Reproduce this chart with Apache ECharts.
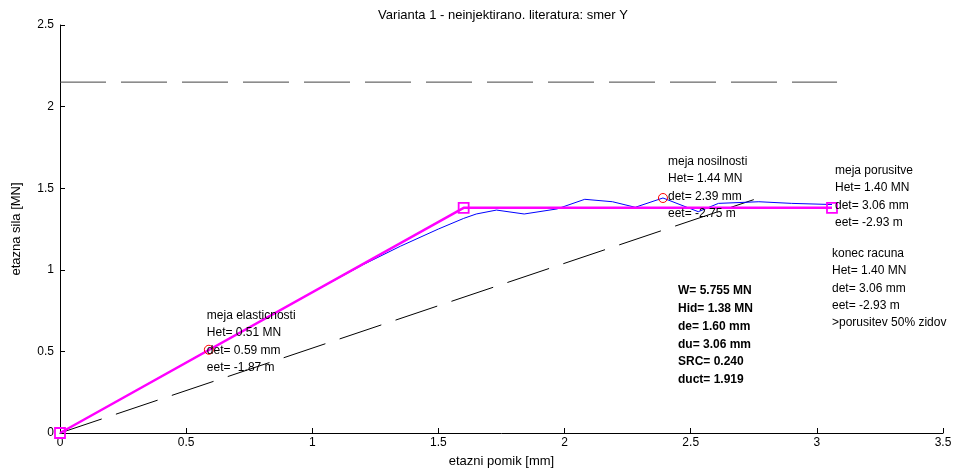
<!DOCTYPE html>
<html>
<head>
<meta charset="utf-8">
<script src="https://cdn.jsdelivr.net/npm/echarts@6/dist/echarts.min.js"></script>
<style>
  html, body { margin: 0; padding: 0; background: #fff; }
  #chart { width: 968px; height: 470px; }
</style>
</head>
<body>
<div id="chart"></div>
<script>
// Pushover curve (storey shear vs. storey drift)
const xTicks = [0, 0.5, 1, 1.5, 2, 2.5, 3, 3.5];
const yTicks = [0, 0.5, 1, 1.5, 2, 2.5];

// computed response [drift mm, force MN]
const curveDrift = [0, 0.2, 0.4, 0.59, 0.8, 1.0, 1.2, 1.35, 1.5, 1.6, 1.65, 1.73, 1.84, 1.97, 2.08, 2.19, 2.28, 2.39, 2.53, 2.61, 2.77, 2.9, 3.06];
const curveForce = [0, 0.172, 0.345, 0.51, 0.69, 0.862, 1.03, 1.145, 1.25, 1.315, 1.342, 1.366, 1.342, 1.373, 1.432, 1.417, 1.383, 1.44, 1.356, 1.407, 1.417, 1.407, 1.40];

// bilinear idealisation
const idealDrift = [0, 1.60, 3.06];
const idealForce = [0, 1.38, 1.38];

// secant line and reference level
const secantDrift = [0, 2.75];
const secantForce = [0, 1.43];
const levelDrift = [0, 3.08];
const levelForce = [2.15, 2.15];

// characteristic points
const elasticPt = [0.59, 0.51];
const capacityPt = [2.39, 1.44];
const failurePt = [3.06, 1.38];

const elasticText = ['meja elasticnosti', 'Het= 0.51 MN', 'det= 0.59 mm', 'eet= -1.87 m'];
const capacityText = ['meja nosilnosti', 'Het= 1.44 MN', 'det= 2.39 mm', 'eet= -2.75 m'];
const failureText = ['meja porusitve', 'Het= 1.40 MN', 'det= 3.06 mm', 'eet= -2.93 m'];
const endText = ['konec racuna', 'Het= 1.40 MN', 'det= 3.06 mm', 'eet= -2.93 m', '>porusitev 50% zidov'];
const summaryText = ['W= 5.755 MN', 'Hid= 1.38 MN', 'de= 1.60 mm', 'du= 3.06 mm', 'SRC= 0.240', 'duct= 1.919'];

const zip = (a, b) => a.map((v, i) => [v, b[i]]);
const FONT = '"Liberation Sans", Arial, sans-serif';

function textLabel(lines, pos) {
  return {
    show: true,
    position: pos,
    align: 'left',
    verticalAlign: 'top',
    formatter: lines.join('\n'),
    fontFamily: FONT,
    fontSize: 12,
    lineHeight: 17.4,
    color: '#000'
  };
}

const chart = echarts.init(document.getElementById('chart'), null, { renderer: 'canvas' });

chart.setOption({
  animation: false,
  backgroundColor: '#fff',
  title: {
    text: 'Varianta 1 - neinjektirano. literatura: smer Y',
    left: 498,
    top: 4,
    textAlign: 'center',
    textStyle: { fontFamily: FONT, fontSize: 13, fontWeight: 'normal', color: '#000' }
  },
  grid: { left: 60, right: 25, top: 25, bottom: 37, containLabel: false, outerBoundsMode: 'none' },
  xAxis: {
    type: 'value',
    min: 0, max: 3.5, interval: 0.5,
    name: 'etazni pomik [mm]',
    nameLocation: 'middle',
    nameGap: 22,
    nameTextStyle: { fontFamily: FONT, fontSize: 13, color: '#000' },
    axisLine: { show: true, onZero: false, lineStyle: { color: '#000', width: 1 } },
    axisTick: { show: true, inside: true, length: 5, lineStyle: { color: '#000' } },
    axisLabel: { fontFamily: FONT, fontSize: 12, color: '#000', margin: 4,
      formatter: v => xTicks.includes(v) ? String(v) : '' },
    splitLine: { show: false }
  },
  yAxis: {
    type: 'value',
    min: 0, max: 2.5, interval: 0.5,
    name: 'etazna sila [MN]',
    nameLocation: 'middle',
    nameGap: 37,
    nameTextStyle: { fontFamily: FONT, fontSize: 13, color: '#000' },
    axisLine: { show: true, onZero: false, lineStyle: { color: '#000', width: 1 } },
    axisTick: { show: true, inside: true, length: 5, lineStyle: { color: '#000' } },
    axisLabel: { fontFamily: FONT, fontSize: 12, color: '#000', margin: 6,
      formatter: v => yTicks.includes(v) ? String(v) : '' },
    splitLine: { show: false }
  },
  series: [
    {
      name: 'level', type: 'line', data: zip(levelDrift, levelForce),
      symbol: 'none', silent: true,
      lineStyle: { color: '#444', width: 1, type: [46, 15] }
    },
    {
      name: 'secant', type: 'line', data: zip(secantDrift, secantForce),
      symbol: 'none', silent: true,
      lineStyle: { color: '#000', width: 1, type: [44, 15] }
    },
    {
      name: 'curve', type: 'line', data: zip(curveDrift, curveForce),
      symbol: 'none', silent: true,
      lineStyle: { color: '#0000ff', width: 1 }
    },
    {
      name: 'ideal', type: 'line', data: zip(idealDrift, idealForce),
      symbol: 'rect', symbolSize: 10, showAllSymbol: true,
      itemStyle: { color: 'rgba(255,255,255,0)', borderColor: '#ff00ff', borderWidth: 1.8, opacity: 1 },
      lineStyle: { color: '#ff00ff', width: 2.5 },
      z: 3
    },
    {
      name: 'points', type: 'scatter', data: [elasticPt, capacityPt],
      symbol: 'circle', symbolSize: 9,
      itemStyle: { color: 'rgba(0,0,0,0)', borderColor: '#ff0000', borderWidth: 1, opacity: 1 },
      z: 4
    },
    {
      name: 'labels', type: 'scatter', symbolSize: 0, silent: true, z: 5,
      itemStyle: { opacity: 1 },
      data: [
        { value: elasticPt, label: textLabel(elasticText, [-2, -43]) },
        { value: capacityPt, label: textLabel(capacityText, [5, -45]) },
        { value: failurePt, label: textLabel(failureText, [3, -46]) },
        { value: failurePt, label: textLabel(endText, [0, 37]) }
      ]
    }
  ],
  graphic: [
    {
      type: 'text',
      left: 678, top: 282,
      style: {
        text: summaryText.join('\n'),
        font: 'bold 12px ' + FONT,
        lineHeight: 17.8,
        fill: '#000'
      }
    }
  ]
});
</script>
</body>
</html>
